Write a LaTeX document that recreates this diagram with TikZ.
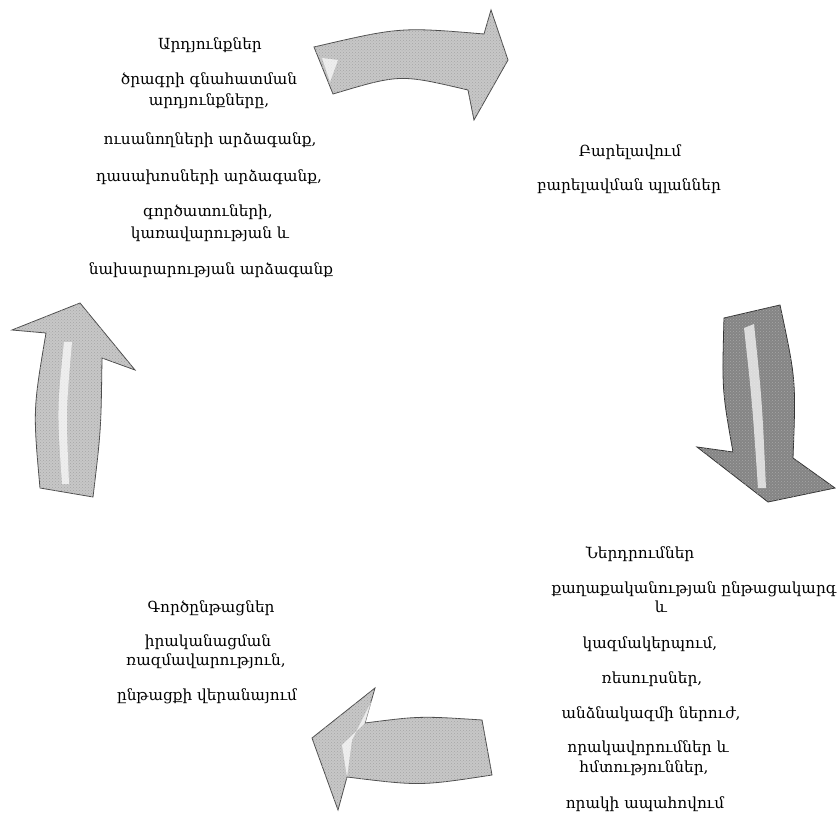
\documentclass[tikz,border=0pt]{standalone}
\usepackage{fontspec}
\setmainfont{DejaVu Serif}
\usetikzlibrary{patterns}
\begin{document}
\begin{tikzpicture}[x=1pt,y=-1pt,
  lbl/.style={anchor=base, inner sep=0pt, font=\fontsize{15.3}{18}\selectfont, text=black},
  arrowlight/.style={fill=black!22, draw=black!70, line width=0.8pt, line join=miter},
  arrowdark/.style={fill=black!48, draw=black!80, line width=0.8pt, line join=miter},
  grain/.style={pattern=crosshatch dots, pattern color=black!35},
  shine/.style={fill=white, fill opacity=0.7, draw=none}]
\useasboundingbox[fill=white] (0,0) rectangle (839,813);

% ---------- arrows ----------
% top arrow (to the right)
\draw[arrowlight] (314,47) .. controls (400,27) .. (484,34) -- (491,10) -- (508,60)
  -- (474,120) -- (468,90) .. controls (400,74) .. (333,94) -- cycle;
\fill[grain] (314,47) .. controls (400,27) .. (484,34) -- (491,10) -- (508,60)
  -- (474,120) -- (468,90) .. controls (400,74) .. (333,94) -- cycle;
\fill[shine] (322,58) -- (338,60) -- (330,82) -- cycle;
% right arrow (down)
\draw[arrowdark] (724,318) -- (780,305) .. controls (796,380) .. (793,458) -- (835,488)
  -- (768,502) -- (697,447) -- (733,452) .. controls (722,390) .. cycle;
\fill[grain] (724,318) -- (780,305) .. controls (796,380) .. (793,458) -- (835,488)
  -- (768,502) -- (697,447) -- (733,452) .. controls (722,390) .. cycle;
\fill[shine] (744,328) .. controls (752,400) .. (758,488) -- (766,488) .. controls (762,400) .. (754,324) -- cycle;
% bottom arrow (to the left)
\draw[arrowlight] (482,720) .. controls (420,716) .. (365,723) -- (375,688) -- (312,738)
  -- (338,810) -- (347,777) .. controls (420,786) .. (492,775) -- cycle;
\fill[grain] (482,720) .. controls (420,716) .. (365,723) -- (375,688) -- (312,738)
  -- (338,810) -- (347,777) .. controls (420,786) .. (492,775) -- cycle;
\fill[shine] (365,723) -- (372,700) -- (352,740) -- (347,777) -- (342,745) -- cycle;
% left arrow (up)
\draw[arrowlight] (40,488) .. controls (33,410) .. (46,333) -- (12,330) -- (80,303)
  -- (135,370) -- (102,358) .. controls (101,430) .. (93,497) -- cycle;
\fill[grain] (40,488) .. controls (33,410) .. (46,333) -- (12,330) -- (80,303)
  -- (135,370) -- (102,358) .. controls (101,430) .. (93,497) -- cycle;
\fill[shine] (64,342) .. controls (57,410) .. (62,484) -- (69,484) .. controls (66,410) .. (72,342) -- cycle;

% ---------- top-left block ----------
\node[lbl] (tl1) at (210,50)  {Արդյունքներ};
\node[lbl] (tl2) at (209,85)  {ծրագրի գնահատման};
\node[lbl] (tl3) at (209,106) {արդյունքները,};
\node[lbl] (tl4) at (210,145) {ուսանողների արձագանք,};
\node[lbl] (tl5) at (209,182) {դասախոսների արձագանք,};
\node[lbl] (tl6) at (208,217) {գործատուների,};
\node[lbl] (tl7) at (210,239) {կառավարության և};
\node[lbl] (tl8) at (211,275) {նախարարության արձագանք};

% ---------- right block ----------
\node[lbl] (r1) at (630,157) {Բարելավում};
\node[lbl] (r2) at (629,191) {բարելավման պլաններ};

% ---------- bottom-right block ----------
\node[lbl] (br1) at (640,558) {Ներդրումներ};
\node[lbl] (br2) at (694,593) {քաղաքականության ընթացակարգ};
\node[lbl] (br3) at (661,612) {և};
\node[lbl] (br4) at (650,648) {կազմակերպում,};
\node[lbl] (br5) at (652,683) {ռեսուրսներ,};
\node[lbl] (br6) at (651,718) {անձնակազմի ներուժ,};
\node[lbl] (br7) at (648,752) {որակավորումներ և};
\node[lbl] (br8) at (644,772) {հմտություններ,};
\node[lbl] (br9) at (645,808) {որակի ապահովում};

% ---------- bottom-left block ----------
\node[lbl] (bl1) at (211,612) {Գործընթացներ};
\node[lbl] (bl2) at (208,646) {իրականացման};
\node[lbl] (bl3) at (206,665) {ռազմավարություն,};
\node[lbl] (bl4) at (207,700) {ընթացքի վերանայում};
\end{tikzpicture}
\end{document}
